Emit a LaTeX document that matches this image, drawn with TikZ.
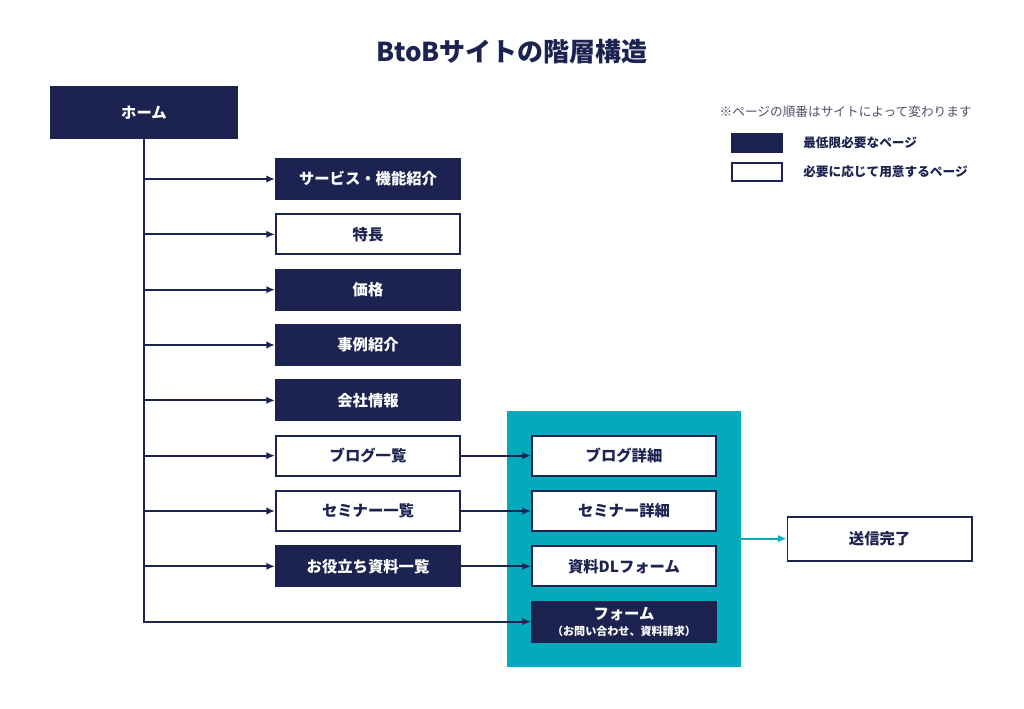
\documentclass[tikz,border=0pt]{standalone}
\usepackage{fontspec}
\setmainfont{Noto Sans CJK JP}
\usetikzlibrary{positioning, arrows.meta, fit, backgrounds}
\definecolor{navy}{HTML}{1D2350}
\definecolor{teal}{HTML}{03AABB}
\definecolor{notegray}{HTML}{4C5068}

\begin{document}
\begin{tikzpicture}[
        x=0.75pt, y=-0.75pt,
        node distance=10pt and 52.5pt,
        darkpage/.style={rectangle, draw=navy, fill=navy, line width=1.4pt, text=white, minimum width=138.1pt, minimum height=30.1pt, font=\fontsize{11.5}{14}\selectfont\bfseries, align=center},
        lightpage/.style={darkpage, fill=white, text=navy},
        group/.style={rectangle, draw=none, fill=teal, inner sep=18pt},
        arrow/.style={-{Latex[length=6.5pt, width=5.5pt]}, line width=1.4pt, draw=navy},
        keybox/.style={rectangle, draw=navy, line width=1.4pt, minimum width=37.6pt, minimum height=12.9pt},
        keytext/.style={text=navy, font=\fontsize{9.5}{12}\selectfont\bfseries, anchor=west, inner sep=0pt}
    ]
    \useasboundingbox (0,0) rectangle (1024,709);

    % Title
    \node[text=navy, font=\fontsize{19.5}{24}\selectfont\bfseries] (title) at (512,52) {BtoBサイトの階層構造};

    % Home
    \node[darkpage, minimum width=139.6pt, minimum height=38.4pt] (home) at (144,112.5) {ホーム};

    % First level pages
    \node[darkpage] (service) at (368,179) {サービス・機能紹介};
    \node[lightpage, below=of service] (feature) {特長};
    \node[darkpage, below=of feature] (price) {価格};
    \node[darkpage, below=of price] (cases) {事例紹介};
    \node[darkpage, below=of cases] (company) {会社情報};
    \node[lightpage, below=of company] (bloglist) {ブログ一覧};
    \node[lightpage, below=of bloglist] (seminarlist) {セミナー一覧};
    \node[darkpage, below=of seminarlist] (doclist) {お役立ち資料一覧};

    % Detail pages
    \node[lightpage, right=of bloglist] (blogdetail) {ブログ詳細};
    \node[lightpage, right=of seminarlist] (seminardetail) {セミナー詳細};
    \node[lightpage, right=of doclist] (dlform) {資料DLフォーム};
    \node[darkpage, below=10pt of dlform, align=center] (form) {フォーム\\[-2pt]{\fontsize{8.3}{10}\selectfont （お問い合わせ、資料請求）}};

    % Teal group behind detail pages
    \begin{scope}[on background layer]
        \node[group, fit=(blogdetail) (form)] (forms) {};
    \end{scope}

    % Thanks page
    \node[lightpage, minimum height=33.1pt, right=34pt of forms] (thanks) {送信完了};

    % Tree connectors
    \draw[arrow] (home.south) |- (form.west);
    \foreach \page in {service, feature, price, cases, company, bloglist, seminarlist, doclist}
        \draw[arrow] (home.south |- \page.west) -- (\page.west);
    \draw[arrow] (bloglist.east) -- (blogdetail.west);
    \draw[arrow] (seminarlist.east) -- (seminardetail.west);
    \draw[arrow] (doclist.east) -- (dlform.west);
    \draw[arrow, draw=teal] (forms.east) -- (thanks.west);

    % Legend
    \node[text=notegray, font=\fontsize{9.5}{12}\selectfont, anchor=east, inner sep=0pt] (note) at (972,112) {※ページの順番はサイトによって変わります};
    \node[keybox, fill=navy] (keydark) at (757,143) {};
    \node[keybox, fill=white] (keylight) at (757,172) {};
    \node[keytext, right=15pt of keydark] (keydarktext) {最低限必要なページ};
    \node[keytext, right=15pt of keylight] (keylighttext) {必要に応じて用意するページ};

\end{tikzpicture}
\end{document}
